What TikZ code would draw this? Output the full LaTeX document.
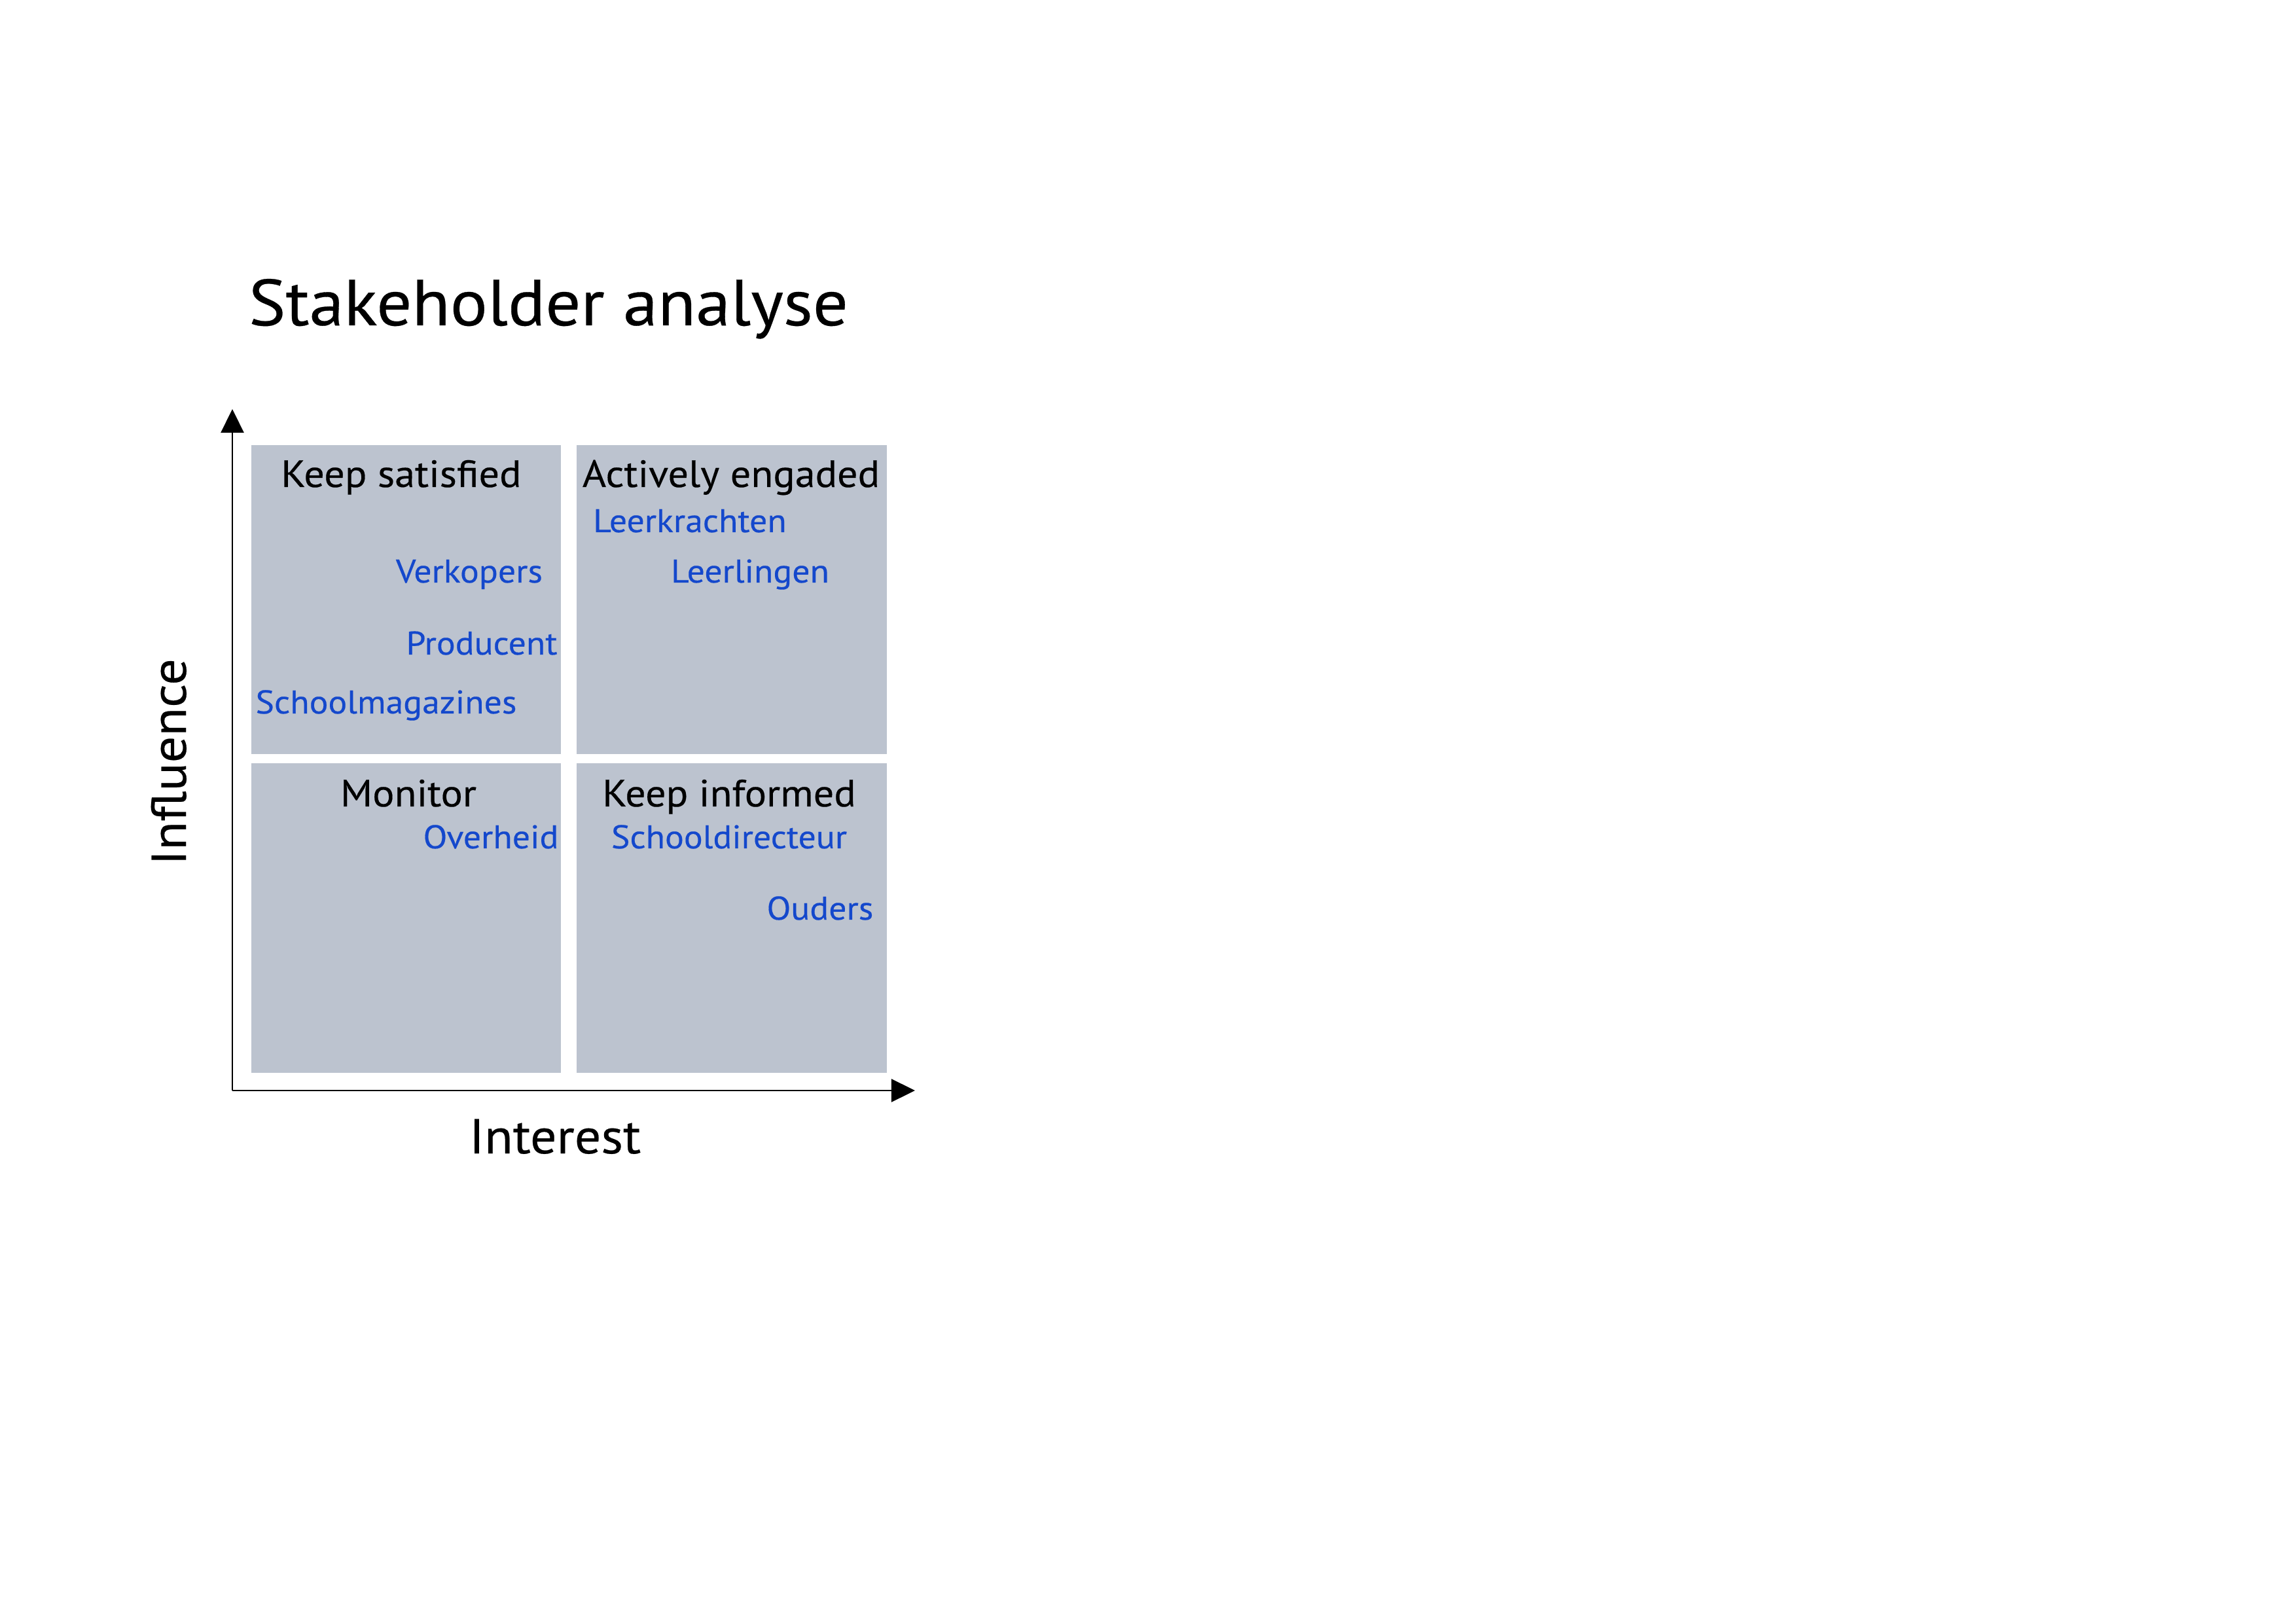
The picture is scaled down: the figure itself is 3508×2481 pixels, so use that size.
\documentclass[tikz,border=0pt]{standalone}
\usepackage{fontspec}
\setmainfont{PT Sans}[FakeStretch=1.07,FakeBold=0.3]
\usetikzlibrary{arrows.meta}
\definecolor{boxfill}{RGB}{188,195,207}
\definecolor{stakeblue}{RGB}{20,72,204}
\tikzset{
  quad/.style={fill=boxfill, draw=none},
  axis/.style={line width=0.6pt, -{Triangle[length=3.05mm,width=2.96mm]}},
  title/.style={font=\fontsize{24}{28}\selectfont, inner sep=0, anchor=base},
  quadlabel/.style={font=\fontsize{14}{17}\selectfont, inner sep=0, anchor=base},
  stake/.style={font=\fontsize{12.1}{15}\selectfont, text=stakeblue, inner sep=0, anchor=base},
  axislabel/.style={font=\fontsize{18}{22}\selectfont, inner sep=0, anchor=base},
}
\begin{document}
\begin{tikzpicture}[x=0.084664mm,y=-0.084664mm]
\useasboundingbox (0,0) rectangle (3508,2481);
% quadrants
\fill[quad] (384,680) rectangle (857,1152);
\fill[quad] (881,680) rectangle (1355,1152);
\fill[quad] (384,1166) rectangle (857,1639);
\fill[quad] (881,1166) rectangle (1355,1639);
% axes
\coordinate (origin) at (355,1666);
\coordinate (ytip) at (355,625);
\coordinate (xtip) at (1398,1666);
\draw[axis] (origin) -- (ytip);
\draw[axis] (origin) -- (xtip);
% title
\node[title] (ttl) at (838,497) {Stakeholder analyse};
% quadrant labels
\node[quadlabel] (ks) at (613,744) {Keep satisfied};
\node[quadlabel] (ae) at (1117,744) {Actively engaded};
\node[quadlabel] (mo) at (624,1232) {Monitor};
\node[quadlabel] (ki) at (1114,1232) {Keep informed};
% stakeholders
\node[stake] (lk) at (1054,813) {Leerkrachten};
\node[stake] (ll) at (1146,890) {Leerlingen};
\node[stake] (vk) at (717,890) {Verkopers};
\node[stake] (pr) at (736,1000) {Producent};
\node[stake] (sm) at (590,1090) {Schoolmagazines};
\node[stake] (ov) at (750,1296) {Overheid};
\node[stake] (sd) at (1114,1296) {Schooldirecteur};
\node[stake] (ou) at (1253,1405) {Ouders};
% axis labels
\node[axislabel] (int) at (848,1762) {Interest};
\node[axislabel, rotate=90] (inf) at (284,1164) {Influence};
\end{tikzpicture}
\end{document}
